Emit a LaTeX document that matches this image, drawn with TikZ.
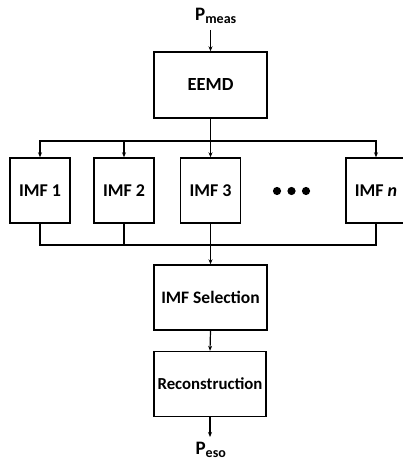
\documentclass[tikz,border=0pt]{standalone}
\usepackage{fontspec}
\setmainfont{Carlito}
\usetikzlibrary{arrows.meta}
\begin{document}
\begin{tikzpicture}[x=1pt,y=-1pt,
  block/.style={draw,line width=1.4pt,minimum width=113pt,minimum height=65pt,inner sep=0pt,
    font=\fontsize{17.5}{20}\selectfont\bfseries},
  imfbox/.style={block,minimum width=60pt,font=\fontsize{18}{20}\selectfont\bfseries},
  flow/.style={line width=1.2pt,-{Stealth[length=5pt,width=4pt]}},
  wire/.style={line width=1.2pt},
  sig/.style={inner sep=0pt,font=\fontsize{19}{21}\selectfont\bfseries}]
\clip (0,0) rectangle (403,462);

% input and decomposition
\node[sig] (pin) at (216,16) {P\textsubscript{\fontsize{14}{16}\selectfont meas}};
\coordinate (pinend) at (210.5,30);
\node[block,minimum height=66pt,font=\fontsize{18.5}{20}\selectfont\bfseries] (eemd) at (210.5,85) {EEMD};
\draw[flow] (pinend) -- (eemd.north);

% intrinsic mode functions
\node[imfbox] (imf1) at (40,190.5) {IMF 1};
\node[imfbox] (imf2) at (124,190.5) {IMF 2};
\node[imfbox] (imf3) at (210.5,190.5) {IMF 3};
\node[imfbox] (imfn) at (376,190.5) {IMF \textit{n}};
\foreach \cx in {277,291.5,306}
  \fill (\cx,191) circle (4.1pt);

\coordinate (busa) at (210.5,141);
\coordinate (busb) at (210.5,245);
\draw[wire] (eemd.south) -- (busa);
\foreach \m in {imf1,imf2,imf3,imfn}
  \draw[flow] (busa) -| (\m.north);
\foreach \m in {imf1,imf2,imfn}
  \draw[wire] (\m.south) |- (busb);
\draw[wire] (imf3.south) -- (busb);

% selection and reconstruction
\node[block] (sel) at (210.5,297.5) {IMF Selection};
\node[block,minimum width=112pt,font=\fontsize{16.8}{20}\selectfont\bfseries] (rec) at (210,384) {Reconstruction};
\draw[flow] (busb) -- (sel.north);
\draw[flow] (sel.south) -- (rec.north);

\node[sig] (pout) at (211,450) {P\textsubscript{\fontsize{14}{16}\selectfont eso}};
\coordinate (poutend) at (210,437);
\draw[flow] (rec.south) -- (poutend);
\end{tikzpicture}
\end{document}
